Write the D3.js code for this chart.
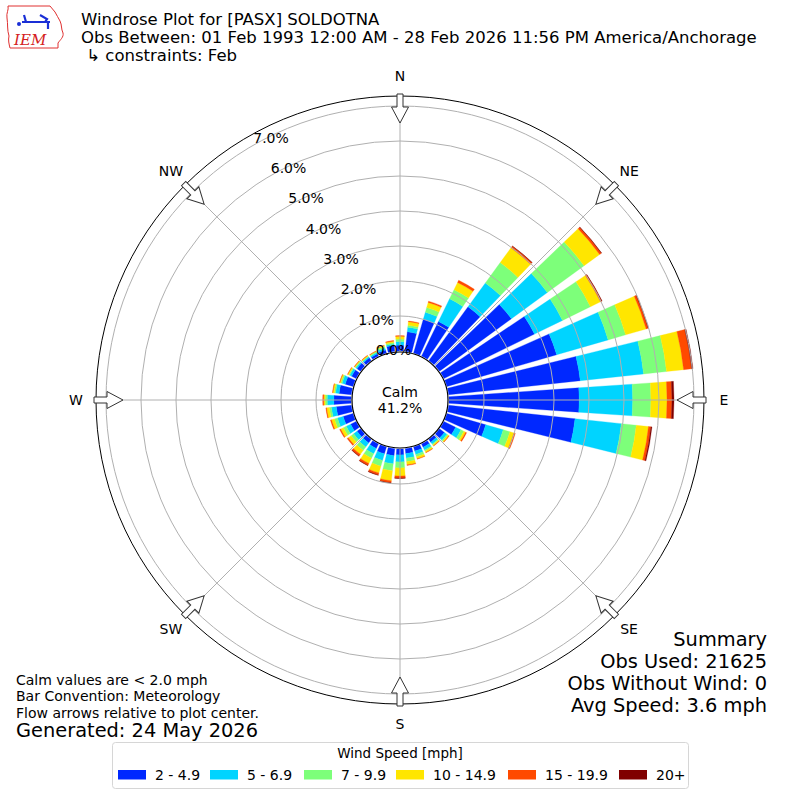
<!DOCTYPE html>
<html>
<head>
<meta charset="utf-8">
<script src="https://cdn.jsdelivr.net/npm/d3@7"></script>
<style>
  body { margin: 0; background: #fff; }
  text { font-family: "DejaVu Sans", sans-serif; fill: #000; }
</style>
</head>
<body>
<div id="chart"></div>
<script>
// direction bins (deg, meteorological) and percent of obs per speed bin
var directions = [0, 10, 20, 30, 40, 50, 60, 70, 80, 90, 100, 110, 120, 130, 140, 150, 160, 170,
  180, 190, 200, 210, 220, 230, 240, 250, 260, 270, 280, 290, 300, 310, 320, 330, 340, 350];
var speedBins = ["2 - 4.9", "5 - 6.9", "7 - 9.9", "10 - 14.9", "15 - 19.9", "20+"];
var pct2to5 = [0.17, 0.56, 1.01, 1.10, 1.90, 2.54, 2.88, 3.26, 3.78, 3.72, 3.63, 1.15, 0.37, 0.17, 0.09, 0.10, 0.12, 0.14,
  0.17, 0.20, 0.20, 0.14, 0.12, 0.12, 0.17, 0.29, 0.43, 0.49, 0.35, 0.23, 0.14, 0.12, 0.09, 0.07, 0.09, 0.17];
var pct5to7 = [0.10, 0.13, 0.20, 0.72, 0.84, 1.27, 0.89, 1.53, 1.82, 1.53, 1.33, 0.52, 0.17, 0.09, 0.07, 0.09, 0.10, 0.13,
  0.20, 0.23, 0.20, 0.17, 0.14, 0.12, 0.14, 0.17, 0.14, 0.19, 0.10, 0.09, 0.06, 0.04, 0.04, 0.04, 0.06, 0.04];
var pct7to10 = [0.07, 0.06, 0.14, 0.29, 0.72, 1.30, 0.89, 0.52, 0.66, 0.52, 0.43, 0.20, 0.09, 0.04, 0.03, 0.04, 0.07, 0.10,
  0.17, 0.20, 0.17, 0.14, 0.12, 0.09, 0.09, 0.09, 0.06, 0.06, 0.04, 0.04, 0.03, 0.03, 0.02, 0.03, 0.04, 0.04];
var pct10to15 = [0.08, 0.10, 0.15, 0.23, 0.52, 0.55, 0.32, 0.61, 0.49, 0.46, 0.35, 0.12, 0.06, 0.03, 0.03, 0.04, 0.06, 0.09,
  0.23, 0.29, 0.20, 0.17, 0.14, 0.10, 0.09, 0.09, 0.08, 0.04, 0.04, 0.03, 0.03, 0.02, 0.02, 0.01, 0.03, 0.04];
var pct15to20 = [0.02, 0.02, 0.04, 0.07, 0.06, 0.06, 0.04, 0.06, 0.23, 0.14, 0.07, 0.04, 0.03, 0.01, 0.01, 0.01, 0.01, 0.02,
  0.06, 0.06, 0.06, 0.06, 0.06, 0.04, 0.03, 0.03, 0.02, 0.03, 0.01, 0.01, 0.01, 0.01, 0.01, 0.01, 0.01, 0.02];
var pct20up = [0, 0, 0, 0, 0.01, 0.01, 0.01, 0.01, 0.04, 0.06, 0.03, 0, 0, 0, 0, 0, 0, 0,
  0.01, 0.01, 0.01, 0.01, 0.01, 0, 0, 0, 0, 0, 0, 0, 0, 0, 0, 0, 0, 0];
var ringTicks = [0, 1, 2, 3, 4, 5, 6, 7];
var compassNames = ["N", "NE", "E", "SE", "S", "SW", "W", "NW"];
var compassDirs = [0, 45, 90, 135, 180, 225, 270, 315];
var calmPct = 41.2;
var titleLines = ["Windrose Plot for [PASX] SOLDOTNA",
  "Obs Between: 01 Feb 1993 12:00 AM - 28 Feb 2026 11:56 PM America/Anchorage",
  " \u21b3 constraints: Feb"];
var noteLines = ["Calm values are < 2.0 mph", "Bar Convention: Meteorology", "Flow arrows relative to plot center."];
var generated = "Generated: 24 May 2026";
var summaryLines = ["Summary", "Obs Used: 21625", "Obs Without Wind: 0", "Avg Speed: 3.6 mph"];

var colors = ["#0028ff", "#00d4ff", "#7dff7a", "#ffe600", "#ff4a00", "#800000"];

var w = 800, h = 800, cx = 400, cy = 400, outerR = 304;

var svg = d3.select("#chart").append("svg")
  .attr("width", w)
  .attr("height", h);

var r = d3.scaleLinear().domain([0, 1]).range([49, 84]);
var ang = d3.scaleLinear().domain([0, 360]).range([0, 2 * Math.PI]);
var halfW = ang(3.9);

var keys = ["a", "b", "c", "d", "e", "f"];
var table = directions.map(function (d, i) {
  return {dir: d, a: pct2to5[i], b: pct5to7[i], c: pct7to10[i], d: pct10to15[i], e: pct15to20[i], f: pct20up[i]};
});
var layers = d3.stack().keys(keys)(table);

var plot = svg.append("g").attr("transform", "translate(" + cx + "," + cy + ")");
var arc = d3.arc();

//stacked bars
plot.selectAll("g.layer")
  .data(layers)
  .enter().append("g")
  .attr("class", "layer")
  .attr("fill", function (d, i) {
    return colors[i];
  })
  .attr("stroke", function (d, i) {
    return colors[i];
  })
  .attr("stroke-width", 0.3)
  .selectAll("path")
  .data(function (d) {
    return d.filter(function (s) { return s[1] - s[0] > 0; });
  })
  .enter().append("path")
  .attr("d", function (d) {
    var a = ang(d.data.dir);
    return arc({innerRadius: r(d[0]), outerRadius: r(d[1]), startAngle: a - halfW, endAngle: a + halfW});
  });

//grid
plot.selectAll("circle.ring")
  .data(ringTicks.slice(1))
  .enter().append("circle")
  .attr("class", "ring")
  .attr("r", function (d) { return r(d); })
  .attr("fill", "none")
  .attr("stroke", "#b0b0b0")
  .attr("stroke-width", 1);

plot.selectAll("line.spoke")
  .data(compassDirs)
  .enter().append("line")
  .attr("class", "spoke")
  .attr("x1", function (d) { return r(0) * Math.sin(ang(d)); })
  .attr("y1", function (d) { return -r(0) * Math.cos(ang(d)); })
  .attr("x2", function (d) { return outerR * Math.sin(ang(d)); })
  .attr("y2", function (d) { return -outerR * Math.cos(ang(d)); })
  .attr("stroke", "#b0b0b0")
  .attr("stroke-width", 1);

plot.append("circle")
  .attr("r", outerR)
  .attr("fill", "none")
  .attr("stroke", "#000")
  .attr("stroke-width", 1);

//calm circle
plot.append("circle")
  .attr("r", 48)
  .attr("fill", "#fff")
  .attr("stroke", "#000")
  .attr("stroke-width", 1.2);

plot.append("text").attr("x", 0).attr("y", -3).attr("text-anchor", "middle")
  .style("font-size", "14px").text("Calm");
plot.append("text").attr("x", 0).attr("y", 13).attr("text-anchor", "middle")
  .style("font-size", "14px").text(calmPct.toFixed(1) + "%");

//radial labels
plot.selectAll("text.rlab")
  .data(ringTicks)
  .enter().append("text")
  .attr("class", "rlab")
  .attr("x", function (d) { return -6.5 - 0.5 * (r(d) - r(0)); })
  .attr("y", function (d) { return -50 - 0.866 * (r(d) - r(0)) + 5; })
  .attr("text-anchor", "middle")
  .style("font-size", "14px")
  .text(function (d) { return d.toFixed(1) + "%"; });

//flow arrows
var arrowPts = [[-3, -306], [-3, -293], [-8.5, -293], [0, -277], [8.5, -293], [3, -293], [3, -306]];
plot.selectAll("path.arrow")
  .data(compassDirs)
  .enter().append("path")
  .attr("class", "arrow")
  .attr("d", "M" + arrowPts.join("L") + "Z")
  .attr("transform", function (d) { return "rotate(" + d + ")"; })
  .attr("fill", "#fff")
  .attr("stroke", "#333")
  .attr("stroke-width", 1);

plot.selectAll("text.compass")
  .data(compassDirs)
  .enter().append("text")
  .attr("class", "compass")
  .attr("x", function (d) { return 324 * Math.sin(ang(d)); })
  .attr("y", function (d) { return -324 * Math.cos(ang(d)) + 5; })
  .attr("text-anchor", "middle")
  .style("font-size", "14px")
  .text(function (d, i) { return compassNames[i]; });

//titles
svg.selectAll("text.title")
  .data(titleLines)
  .enter().append("text")
  .attr("class", "title")
  .attr("x", 81)
  .attr("y", function (d, i) { return 25 + i * 18; })
  .style("font-size", "16.5px")
  .style("white-space", "pre")
  .attr("xml:space", "preserve")
  .text(function (d) { return d; });

svg.selectAll("text.note")
  .data(noteLines)
  .enter().append("text")
  .attr("class", "note")
  .attr("x", 16)
  .attr("y", function (d, i) { return 685 + i * 16.3; })
  .style("font-size", "14px")
  .text(function (d) { return d; });

svg.append("text").attr("x", 16).attr("y", 737).style("font-size", "19.4px").text(generated);

svg.selectAll("text.summary")
  .data(summaryLines)
  .enter().append("text")
  .attr("class", "summary")
  .attr("x", 767)
  .attr("y", function (d, i) { return 646 + i * 22; })
  .attr("text-anchor", "end")
  .style("font-size", "19.4px")
  .text(function (d) { return d; });

//legend
var legend = svg.append("g");
legend.append("rect")
  .attr("x", 112.5).attr("y", 742.5).attr("width", 576).attr("height", 46)
  .attr("rx", 3)
  .attr("fill", "#fff")
  .attr("stroke", "#d6d6d6");
legend.append("text").attr("x", 400).attr("y", 758).attr("text-anchor", "middle")
  .style("font-size", "13.5px").text("Wind Speed [mph]");
var legendX = [118, 210, 304, 396, 508, 619];
var items = legend.selectAll("g.item")
  .data(speedBins)
  .enter().append("g")
  .attr("class", "item")
  .attr("transform", function (d, i) { return "translate(" + legendX[i] + ",770)"; });
items.append("rect")
  .attr("width", 28).attr("height", 9.5)
  .attr("fill", function (d, i) { return colors[i]; });
items.append("text")
  .attr("x", 37).attr("y", 10)
  .style("font-size", "14px")
  .text(function (d) { return d; });

//IEM logo
var logo = svg.append("g").attr("transform", "translate(0,0)");
logo.append("path")
  .attr("d", "M8,6 L50,6 C52,8 53,10 55,12 C57,15 58,18 60,21 C62,25 61,29 63,33 C64,37 60,40 58,43 L58,48 L10,48 C9,44 8,40 9,36 C7,30 8,24 7,18 C6,13 9,10 8,6 Z")
  .attr("fill", "#fff")
  .attr("stroke", "#e03030")
  .attr("stroke-width", 1);
logo.append("path")
  .attr("d", "M22,22 L50,22 M48,22 L48,29 M24,15 L26,22 M40,15 L47,19 L45,22")
  .attr("stroke", "#1a2fd6")
  .attr("stroke-width", 2.2)
  .attr("fill", "none");
logo.append("circle").attr("cx", 19).attr("cy", 24).attr("r", 2).attr("fill", "#1a2fd6");
logo.append("text").attr("x", 14).attr("y", 45)
  .style("font-family", "'DejaVu Serif', serif")
  .style("font-style", "italic")
  .style("font-size", "15px")
  .style("fill", "#d42020")
  .text("IEM");
</script>
</body>
</html>
